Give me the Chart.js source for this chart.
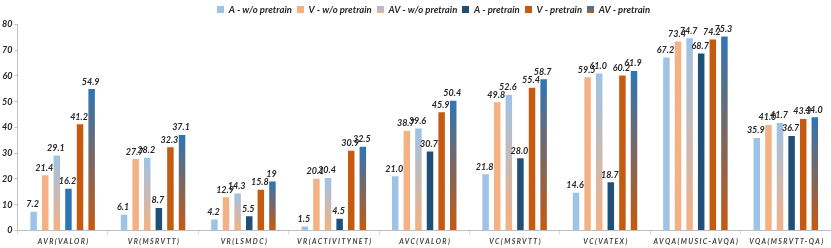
<!DOCTYPE html>
<html>
<head>
<meta charset="utf-8">
<script src="https://cdn.jsdelivr.net/npm/chart.js@4.4.1/dist/chart.umd.min.js"></script>
<style>
  html, body { margin: 0; padding: 0; background: #fff; }
  #wrap { width: 831px; height: 248px; }
</style>
</head>
<body>
<div id="wrap"><canvas id="grafico"></canvas></div>
<script>
// categorias y series
const tareas = ['AVR(VALOR)', 'VR(MSRVTT)', 'VR(LSMDC)', 'VR(ACTIVITYNET)', 'AVC(VALOR)',
                'VC(MSRVTT)', 'VC(VATEX)', 'AVQA(MUSIC-AVQA)', 'VQA(MSRVTT-QA)'];
const aSinPre  = ['7.2', '6.1', '4.2', '1.5', '21.0', '21.8', '14.6', '67.2', '35.9'];
const vSinPre  = ['21.4', '27.7', '12.9', '20.1', '38.7', '49.8', '59.5', '73.4', '41.0'];
const avSinPre = ['29.1', '28.2', '14.3', '20.4', '39.6', '52.6', '61.0', '74.7', '41.7'];
const aPre     = ['16.2', '8.7', '5.5', '4.5', '30.7', '28.0', '18.7', '68.7', '36.7'];
const vPre     = ['41.2', '32.3', '15.8', '30.9', '45.9', '55.4', '60.2', '74.2', '43.3'];
const avPre    = ['54.9', '37.1', '19', '32.5', '50.4', '58.7', '61.9', '75.3', '44.0'];
const ticksY   = [0, 10, 20, 30, 40, 50, 60, 70, 80];

const FUENTE = 'Lato, "Open Sans", sans-serif';
const TEXTO = '#262626';

// degradado vertical por barra (arriba color1, abajo color2)
function degradado(c1, c2) {
    return (ctx) => {
        const chart = ctx.chart;
        if (!chart.chartArea || !ctx.parsed) return c1;
        const y = chart.scales.y;
        const top = y.getPixelForValue(ctx.parsed.y);
        const bottom = y.getPixelForValue(0);
        const g = chart.ctx.createLinearGradient(0, top, 0, bottom);
        g.addColorStop(0, c1);
        g.addColorStop(1, c2);
        return g;
    };
}

// iconos para la leyenda
function icono(c1, c2) {
    const cv = document.createElement('canvas');
    cv.width = 7; cv.height = 7;
    const cx = cv.getContext('2d');
    const g = cx.createLinearGradient(0, 0, 0, 7);
    g.addColorStop(0, c1);
    g.addColorStop(1, c2 || c1);
    cx.fillStyle = g;
    cx.fillRect(0, 0, 7, 7);
    return cv;
}

const series = [
    { label: 'A - w/o pretrain',  data: aSinPre,  bg: '#9DC3E6', icon: icono('#9DC3E6') },
    { label: 'V - w/o pretrain',  data: vSinPre,  bg: '#F4B183', icon: icono('#F4B183') },
    { label: 'AV - w/o pretrain', data: avSinPre, bg: degradado('#9DC3E6', '#F4B183'), icon: icono('#9DC3E6', '#F4B183') },
    { label: 'A - pretrain',      data: aPre,     bg: ['#2E75B6', '#1F4E79', '#1F4E79', '#1F4E79', '#1F4E79', '#1F4E79', '#1F4E79', '#1F4E79', '#1F4E79'], icon: icono('#1F4E79') },
    { label: 'V - pretrain',      data: vPre,     bg: '#C55A11', icon: icono('#C55A11') },
    { label: 'AV - pretrain',     data: avPre,    bg: degradado('#2E75B6', '#C55A11'), icon: icono('#2E75B6', '#C55A11') },
];

// etiquetas de valor encima de cada barra
const etiquetasValor = {
    id: 'etiquetasValor',
    afterDatasetsDraw(chart) {
        const ctx = chart.ctx;
        ctx.save();
        ctx.font = 'italic bold 9px ' + FUENTE;
        ctx.fillStyle = TEXTO;
        ctx.textAlign = 'center';
        ctx.textBaseline = 'bottom';
        chart.data.datasets.forEach((ds, i) => {
            chart.getDatasetMeta(i).data.forEach((bar, j) => {
                ctx.fillText(ds.data[j], bar.x - 1, bar.y - 3);
            });
        });
        ctx.restore();
    }
};

// etiquetas del eje x con espaciado entre letras
const etiquetasX = {
    id: 'etiquetasX',
    afterDraw(chart) {
        const xs = chart.scales.x;
        const ctx = chart.ctx;
        ctx.save();
        ctx.font = 'italic bold 7px ' + FUENTE;
        ctx.fillStyle = '#404040';
        ctx.textAlign = 'center';
        ctx.textBaseline = 'middle';
        ctx.letterSpacing = '1.4px';
        xs.ticks.forEach((t, i) => {
            ctx.fillText(tareas[i], xs.getPixelForTick(i) + 1, xs.top + 11);
        });
        ctx.restore();
    }
};

// la leyenda del original esta un poco corrida a la derecha
const moverLeyenda = {
    id: 'moverLeyenda',
    afterLayout(chart) {
        chart.legend.left += 18;
        chart.legend.right += 18;
    }
};

new Chart(document.getElementById('grafico'), {
    type: 'bar',
    data: {
        labels: tareas,
        datasets: series.map(s => ({
            label: s.label,
            data: s.data,
            backgroundColor: s.bg,
            pointStyle: s.icon,
            categoryPercentage: 0.77,
            barPercentage: 0.56,
        })),
    },
    options: {
        responsive: true,
        maintainAspectRatio: false,
        animation: false,
        layout: { padding: { top: 0, right: 0, bottom: 0, left: 0 } },
        plugins: {
            legend: {
                position: 'top',
                labels: {
                    usePointStyle: true,
                    boxWidth: 7,
                    boxHeight: 7,
                    padding: 5,
                    color: TEXTO,
                    font: { family: FUENTE, size: 9.5, style: 'italic', weight: 'bold' },
                },
            },
            tooltip: { enabled: false },
        },
        scales: {
            x: {
                grid: { offset: true, drawOnChartArea: false, tickLength: 4, color: '#d9d9d9' },
                border: { color: '#bfbfbf' },
                ticks: { color: 'rgba(0,0,0,0)', font: { family: FUENTE, size: 8, style: 'italic', weight: 'bold' }, padding: 2 },
            },
            y: {
                min: 0,
                max: 80,
                afterBuildTicks(axis) { axis.ticks = ticksY.map(v => ({ value: v })); },
                grid: { drawOnChartArea: false, tickLength: 3, color: '#bfbfbf' },
                border: { color: '#bfbfbf' },
                ticks: { color: TEXTO, padding: 2, font: { family: FUENTE, size: 9, style: 'italic', weight: 'bold' } },
            },
        },
    },
    plugins: [etiquetasValor, etiquetasX, moverLeyenda],
});
</script>
</body>
</html>
